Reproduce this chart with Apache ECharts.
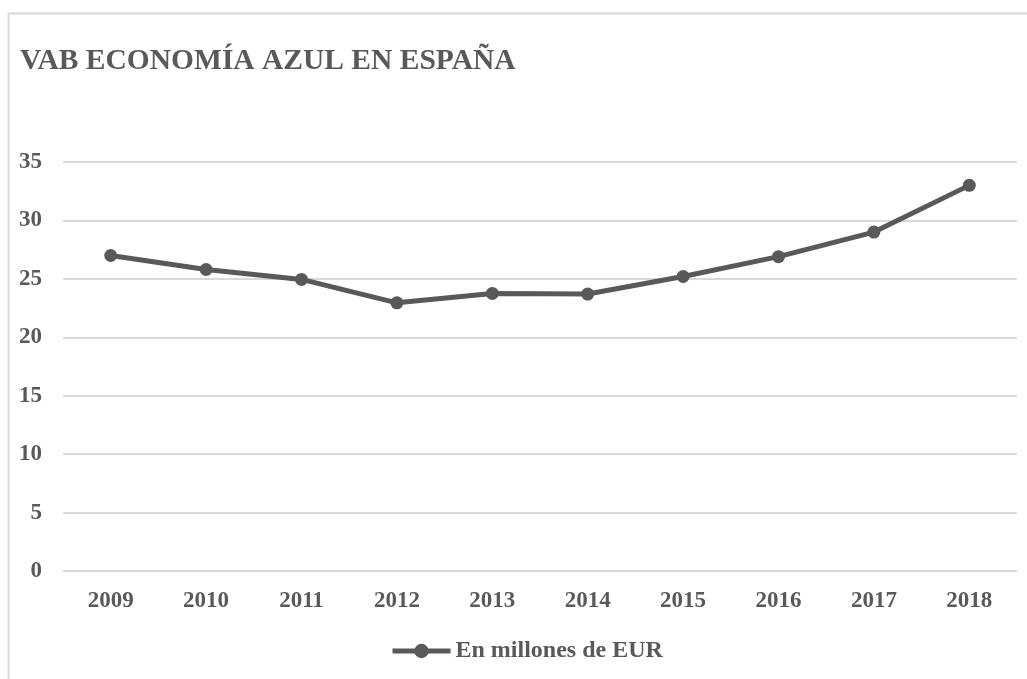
<!DOCTYPE html>
<html>
<head>
<meta charset="utf-8">
<style>
  html, body { margin: 0; padding: 0; background: #fff; }
  #chart { width: 1027px; height: 679px; }
</style>
<script src="https://cdn.jsdelivr.net/npm/echarts@6/dist/echarts.min.js"></script>
</head>
<body>
<div id="chart"></div>
<script>
const years = ['2009', '2010', '2011', '2012', '2013', '2014', '2015', '2016', '2017', '2018'];
const vab = [27.0, 25.8, 24.95, 22.95, 23.75, 23.7, 25.2, 26.9, 29.0, 33.0];
const seriesName = 'En millones de EUR';
const chartTitle = 'VAB ECONOMÍA AZUL EN ESPAÑA';

const grey = '#595959';
const serif = '"Liberation Serif", "Times New Roman", serif';

const chart = echarts.init(document.getElementById('chart'));

chart.setOption({
    animation: false,
    graphic: [{
        type: 'rect',
        shape: { x: 8.5, y: 13.5, width: 1040, height: 700 },
        style: { fill: 'none', stroke: '#d9d9d9', lineWidth: 2 }
    }],
    title: {
        text: chartTitle,
        left: 15,
        top: 41,
        textStyle: { fontFamily: serif, fontWeight: 'bold', fontSize: 29.5, color: grey }
    },
    legend: {
        data: [seriesName],
        top: 634,
        left: 385,
        itemWidth: 58,
        itemHeight: 18,
        itemGap: 4,
        lineStyle: { width: 5, color: grey },
        textStyle: { fontFamily: serif, fontWeight: 'bold', fontSize: 24, color: grey }
    },
    grid: { left: 63, right: 10, top: 162, bottom: 108 },
    xAxis: {
        type: 'category',
        data: years,
        boundaryGap: true,
        axisLine: { show: false },
        axisTick: { show: false },
        axisLabel: { margin: 19, fontFamily: serif, fontWeight: 'bold', fontSize: 23, color: grey }
    },
    yAxis: {
        type: 'value',
        min: 0,
        max: 35,
        interval: 5,
        axisLine: { show: false },
        axisTick: { show: false },
        splitLine: { lineStyle: { color: '#d9d9d9', width: 2 } },
        axisLabel: { margin: 21, fontFamily: serif, fontWeight: 'bold', fontSize: 23, color: grey }
    },
    series: [{
        name: seriesName,
        type: 'line',
        data: vab,
        symbol: 'circle',
        symbolSize: 13,
        lineStyle: { color: grey, width: 5 },
        itemStyle: { color: grey }
    }]
});
</script>
</body>
</html>
